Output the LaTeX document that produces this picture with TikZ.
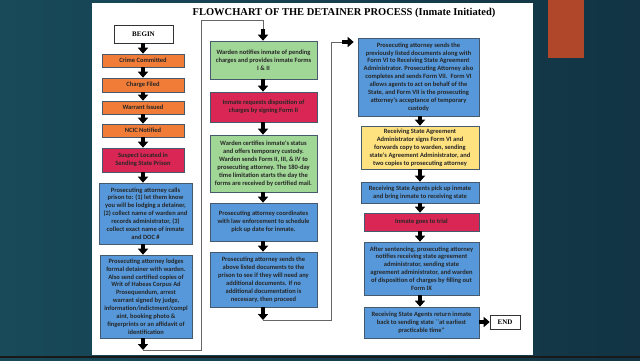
\documentclass[tikz,border=0pt]{standalone}
\usepackage{fontspec}
\setmainfont{Liberation Serif}
\newfontfamily\boxfont{Carlito}
\usetikzlibrary{arrows.meta,calc}
\definecolor{bgA}{RGB}{24,74,90}
\definecolor{bgB}{RGB}{18,52,68}
\definecolor{barc}{RGB}{176,70,42}
\definecolor{orng}{RGB}{240,124,56}
\definecolor{crim}{RGB}{218,38,84}
\definecolor{grn}{RGB}{160,214,150}
\definecolor{blu}{RGB}{86,152,218}
\definecolor{ylw}{RGB}{255,226,128}
\definecolor{edge}{RGB}{70,90,110}
\begin{document}
\begin{tikzpicture}[x=1pt,y=-1pt,
  bx/.style={draw=edge, line width=0.6pt, rectangle, inner sep=0.5pt, align=center,
    font=\boxfont\bfseries\fontsize{6.5}{7.9}\selectfont, text=black!85},
  term/.style={draw=black!80, line width=0.6pt, fill=white, inner sep=1pt,
    font=\bfseries\fontsize{7}{8}\selectfont},
  blk/.style={line width=3.6pt, -{Triangle[width=10pt,length=6pt]}, black},
  thinline/.style={draw=black!60, line width=0.5pt}]
\useasboundingbox (0,0) rectangle (640,360);
% background
\shade[left color=bgA, right color=bgB] (0,0) rectangle (640,360);
\fill[barc] (548,0) rectangle (584,58);
\fill[white] (92,3) rectangle (533,355);
\fill[black!90] (0,355.5) rectangle (640,358);
% title
\node[font=\bfseries\fontsize{10.5}{12}\selectfont] (title) at (344,13)
  {FLOWCHART OF THE DETAINER PROCESS (Inmate Initiated)};
% left column
\node[term, minimum width=59pt, minimum height=18pt] (begin) at (143.5,34) {BEGIN};
\node[bx, fill=orng, minimum width=82pt, minimum height=13pt] (c1) at (143,60.5) {Crime Committed};
\node[bx, fill=orng, minimum width=82pt, minimum height=14pt] (c2) at (143,85) {Charge Filed};
\node[bx, fill=orng, minimum width=82pt, minimum height=13pt] (c3) at (143,107.5) {Warrant Issued};
\node[bx, fill=orng, minimum width=82pt, minimum height=13pt] (c4) at (143,130.5) {NCIC Notified};
\node[bx, fill=crim, minimum width=82pt, minimum height=24pt] (c5) at (143,160)
  {Suspect Located in\\Sending State Prison};
\node[bx, fill=blu, minimum width=93pt, minimum height=61pt] (c6) at (145.5,213.5)
  {Prosecuting attorney calls\\prison to: (1) let them know\\you will be lodging a detainer,\\(2) collect name of warden and\\records administrator, (3)\\collect exact name of inmate\\and DOC \#};
\node[bx, fill=blu, minimum width=92pt, minimum height=83pt] (c7) at (146,296.5)
  {Prosecuting attorney lodges\\formal detainer with warden.\\Also send certified copies of\\Writ of Habeas Corpus Ad\\Prosequendum, arrest\\warrant signed by judge,\\information/indictment/compl\\aint, booking photo \&\\fingerprints or an affidavit of\\identification};
% middle column
\node[bx, fill=grn, minimum width=107pt, minimum height=38pt] (m1) at (263.5,60)
  {Warden notifies inmate of pending\\charges and provides inmate Forms\\I \& II};
\node[bx, fill=crim, minimum width=107pt, minimum height=30pt] (m2) at (263.5,107)
  {Inmate requests disposition of\\charges by signing Form II};
\node[bx, fill=grn, minimum width=107pt, minimum height=57pt] (m3) at (263.5,163.5)
  {Warden certifies inmate's status\\and offers temporary custody.\\Warden sends Form II, III, \& IV to\\prosecuting attorney. The 180-day\\time limitation starts the day the\\forms are received by certified mail.};
\node[bx, fill=blu, minimum width=107pt, minimum height=38pt] (m4) at (263.5,222)
  {Prosecuting attorney coordinates\\with law enforcement to schedule\\pick up date for inmate.};
\node[bx, fill=blu, minimum width=107pt, minimum height=55pt] (m5) at (263.5,279.5)
  {Prosecuting attorney sends the\\above listed documents to the\\prison to see if they will need any\\additional documents. If no\\additional documentation is\\necessary, then proceed};
% right column
\node[bx, fill=blu, minimum width=121pt, minimum height=78pt] (r1) at (418.5,77)
  {Prosecuting attorney sends the\\previously listed documents along with\\Form VI to Receiving State Agreement\\Administrator. Prosecuting Attorney also\\completes and sends Form VII.\ \ Form VI\\allows agents to act on behalf of the\\State, and Form VII is the prosecuting\\attorney's acceptance of temporary\\custody};
\node[bx, fill=ylw, minimum width=118pt, minimum height=43pt] (r2) at (420,147.5)
  {Receiving State Agreement\\Administrator signs Form VI and\\forwards copy to warden, sending\\state's Agreement Administrator, and\\two copies to prosecuting attorney};
\node[bx, fill=blu, minimum width=118pt, minimum height=21pt] (r3) at (420,192.5)
  {Receiving State Agents pick up inmate\\and bring inmate to receiving state};
\node[bx, fill=crim, minimum width=115pt, minimum height=18pt] (r4) at (421.5,222)
  {Inmate goes to trial};
\node[bx, fill=blu, minimum width=115pt, minimum height=53pt] (r5) at (421.5,268.5)
  {After sentencing, prosecuting attorney\\notifies receiving state agreement\\administrator, sending state\\agreement administrator, and warden\\of disposition of charges by filling out\\Form IX};
\node[bx, fill=blu, minimum width=115pt, minimum height=31pt] (r6) at (421.5,322.5)
  {Receiving State Agents return inmate\\back to sending state ``at earliest\\practicable time''};
\node[term, minimum width=30pt, minimum height=14pt] (end) at (505,322) {END};
% coordinates
\coordinate (lx) at (143,0);
\coordinate (mx) at (263,0);
\coordinate (rx) at (420,0);
\coordinate (lt) at (143,350);
\coordinate (ja) at (201,350);
\coordinate (jc) at (263,20);
\coordinate (mt) at (263,29);
\coordinate (mb) at (263,320);
\coordinate (jd) at (331,320);
\coordinate (rs) at (342,42);
% left arrows
\draw[blk] (begin.south -| lx) -- (c1.north -| lx);
\draw[blk] (c1.south -| lx) -- (c2.north -| lx);
\draw[blk] (c2.south -| lx) -- (c3.north -| lx);
\draw[blk] (c3.south -| lx) -- (c4.north -| lx);
\draw[blk] (c4.south -| lx) -- (c5.north -| lx);
\draw[blk] (c5.south -| lx) -- (c6.north -| lx);
\draw[blk] (c6.south -| lx) -- (c7.north -| lx);
\draw[blk] (c7.south -| lx) -- (lt);
% link to middle
\draw[thinline] (lt) -- (ja) |- (jc) -- (mt);
\draw[blk] (mt) -- (m1.north -| mx);
\draw[blk] (m1.south -| mx) -- (m2.north -| mx);
\draw[blk] (m2.south -| mx) -- (m3.north -| mx);
\draw[blk] (m3.south -| mx) -- (m4.north -| mx);
\draw[blk] (m4.south -| mx) -- (m5.north -| mx);
\draw[blk] (m5.south -| mx) -- (mb);
% link to right
\draw[thinline] (mb) -- (jd) |- (rs);
\draw[blk, shorten >=4pt] (rs) -- (rs -| r1.west);
\draw[blk] (r1.south -| rx) -- (r2.north -| rx);
\draw[blk] (r2.south -| rx) -- (r3.north -| rx);
\draw[blk] (r3.south -| rx) -- (r4.north -| rx);
\draw[blk] (r4.south -| rx) -- (r5.north -| rx);
\draw[blk] (r5.south -| rx) -- (r6.north -| rx);
\draw[blk] (r6.east |- end.west) -- (end.west);
\end{tikzpicture}
\end{document}
